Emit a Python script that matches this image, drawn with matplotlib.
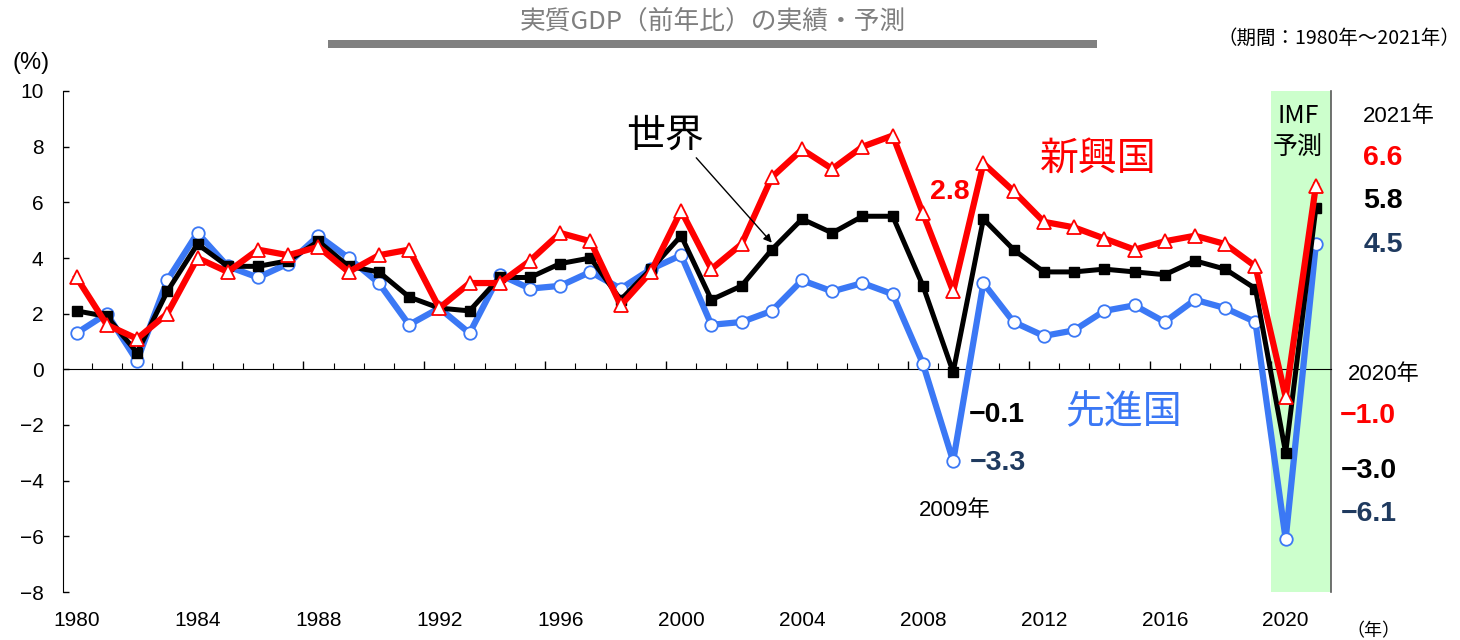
import numpy as np
import matplotlib
matplotlib.use('Agg')
import matplotlib.pyplot as plt
from matplotlib.patches import Rectangle
from matplotlib.ticker import FixedLocator

plt.rcParams['font.family'] = ['Liberation Sans', 'Noto Sans CJK JP', 'DejaVu Sans']

# 実質GDP成長率 (%) 1980-2021
years = list(range(1980, 2022))
world = [2.1, 1.9, 0.6, 2.8, 4.5, 3.7, 3.7, 3.9, 4.6, 3.7,
         3.5, 2.6, 2.2, 2.1, 3.3, 3.3, 3.8, 4.0, 2.5, 3.6,
         4.8, 2.5, 3.0, 4.3, 5.4, 4.9, 5.5, 5.5, 3.0, -0.1,
         5.4, 4.3, 3.5, 3.5, 3.6, 3.5, 3.4, 3.9, 3.6, 2.9,
         -3.0, 5.8]
emerging = [3.3, 1.6, 1.1, 2.0, 4.0, 3.5, 4.3, 4.1, 4.4, 3.5,
            4.1, 4.3, 2.2, 3.1, 3.1, 3.9, 4.9, 4.6, 2.3, 3.5,
            5.7, 3.6, 4.5, 6.9, 7.9, 7.2, 8.0, 8.4, 5.6, 2.8,
            7.4, 6.4, 5.3, 5.1, 4.7, 4.3, 4.6, 4.8, 4.5, 3.7,
            -1.0, 6.6]
advanced = [1.3, 2.0, 0.3, 3.2, 4.9, 3.7, 3.3, 3.8, 4.8, 4.0,
            3.1, 1.6, 2.2, 1.3, 3.4, 2.9, 3.0, 3.5, 2.9, 3.6,
            4.1, 1.6, 1.7, 2.1, 3.2, 2.8, 3.1, 2.7, 0.2, -3.3,
            3.1, 1.7, 1.2, 1.4, 2.1, 2.3, 1.7, 2.5, 2.2, 1.7,
            -6.1, 4.5]
label_years = list(range(1980, 2021, 4))

RED = '#FF0000'
BLUE = '#3B78F5'
NAVY = '#1F3A5F'

W, H = 1460, 640
fig = plt.figure(figsize=(14.6, 6.4), dpi=100)
ax = fig.add_axes([63 / W, 1 - 592 / H, (1331 - 63) / W, (592 - 91) / H])

def ftext(px, py, s, **kw):
    # figure text placed by pixel position
    kw.setdefault('ha', 'center')
    kw.setdefault('va', 'center')
    return fig.text(px / W, 1 - py / H, s, **kw)

ax.axvspan(2019.5, 2021.5, color='#CCFFCC', zorder=0, lw=0)

ax.plot(years, advanced, color=BLUE, lw=4.5, marker='o', ms=9,
        mfc='white', mec=BLUE, mew=1.3, zorder=3)
ax.plot(years, world, color='black', lw=3.6, marker='s', ms=7,
        mfc='black', mec='black', zorder=4)
ax.plot(years, emerging, color=RED, lw=4.5, marker='^', ms=9.5,
        mfc='white', mec=RED, mew=1.3, zorder=5)

ax.set_xlim(1979.55, 2021.5)
ax.set_ylim(-8, 10)
ax.set_yticks(np.arange(-8, 11, 2))
ax.tick_params(axis='y', direction='in', length=4.5, width=1, pad=14, labelsize=15)

ax.spines['top'].set_visible(False)
ax.spines['right'].set_color('#595959')
ax.spines['right'].set_linewidth(1.2)
ax.spines['bottom'].set_position(('data', 0))
ax.xaxis.set_major_locator(FixedLocator(np.arange(1983.5, 2021, 4)))
ax.xaxis.set_minor_locator(FixedLocator(np.arange(1980.5, 2021, 1)))
ax.tick_params(axis='x', which='both', direction='in', labelbottom=False)
ax.tick_params(axis='x', which='major', length=6, width=1)
ax.tick_params(axis='x', which='minor', length=4, width=0.8)

for y in label_years:
    ax.text(y, -0.057, str(y), transform=ax.get_xaxis_transform(),
            ha='center', va='center', fontsize=15)

# title and frame texts
ftext(713, 22, '実質GDP（前年比）の実績・予測', fontsize=18.5, color='#7F7F7F',
      family=['Noto Sans CJK JP'])
fig.add_artist(Rectangle((328 / W, 1 - 48 / H), (1097 - 328) / W, 8 / H,
                         transform=fig.transFigure, color='#808080', lw=0))
ftext(1339, 38, '（期間：1980年～2021年）', fontsize=14, family=['Noto Sans CJK JP'])
ftext(31, 63, '(%)', fontsize=17)
ftext(1373, 631, '（年）', fontsize=13, family=['Noto Sans CJK JP'])

# series labels
ftext(665, 136, '世界', fontsize=28, family=['Noto Sans CJK JP'])
ax.annotate('', xy=(2003.0, 4.55), xytext=(2000.5, 7.6),
            arrowprops=dict(arrowstyle='-|>', color='black', lw=1,
                            mutation_scale=12, shrinkA=0, shrinkB=0), zorder=6)
ftext(1098, 160, '新興国', fontsize=28, color=RED, family=['Noto Sans CJK JP'])
ftext(1123, 412, '先進国', fontsize=28, color=BLUE, family=['Noto Sans CJK JP'])

ftext(1298, 116, 'IMF', fontsize=18, family=['Noto Sans CJK JP'])
ftext(1298, 148, '予測', fontsize=18, family=['Noto Sans CJK JP'])

# value labels
bold = dict(fontsize=20.5, fontweight='bold')
ftext(950, 192, '2.8', color=RED, **bold)
ftext(997, 415, '\u22120.1', color='black', **bold)
ftext(998, 463, '\u22123.3', color=NAVY, **bold)
ftext(955, 510, '2009年', fontsize=16)

ftext(1399, 117, '2021年', fontsize=16)
ftext(1383, 158, '6.6', color=RED, **bold)
ftext(1383, 201, '5.8', color='black', **bold)
ftext(1383, 245, '4.5', color=NAVY, **bold)
ftext(1384, 375, '2020年', fontsize=16)
ftext(1368, 416, '\u22121.0', color=RED, **bold)
ftext(1369, 471, '\u22123.0', color='black', **bold)
ftext(1369, 514, '\u22126.1', color=NAVY, **bold)

fig.savefig('out.png', dpi=100)
